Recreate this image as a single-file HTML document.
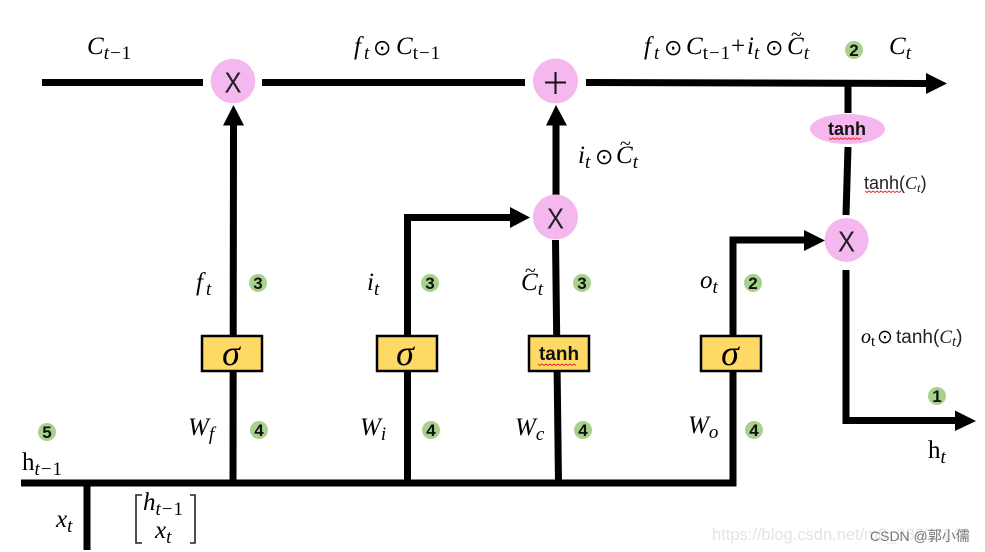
<!DOCTYPE html>
<html><head><meta charset="utf-8"><style>
html,body{margin:0;padding:0;background:#fff;width:985px;height:552px;overflow:hidden}
svg{display:block}
.m{font-family:"Liberation Serif",serif;font-style:italic;font-size:25px;fill:#000}
.s{font-size:19px;letter-spacing:1px}
.u{font-style:normal}
.o{font-family:"DejaVu Sans",sans-serif;font-style:normal;font-size:22px}
.x{font-family:"Liberation Sans",sans-serif;font-size:29px;text-anchor:middle;fill:#222}
.n{font-family:"Liberation Sans",sans-serif;font-size:17px;font-weight:bold;text-anchor:middle;fill:#111}
.t{font-family:"Liberation Sans",sans-serif;font-size:18px;fill:#222}
.sg{font-family:"Liberation Serif",serif;font-style:italic;font-size:36px;text-anchor:middle}
</style></head><body>
<svg width="985" height="552" viewBox="0 0 985 552" xmlns="http://www.w3.org/2000/svg">
<g stroke="#000" stroke-width="7" fill="none">
<path d="M42 82.5H203M262 82.5H525M586 82.5L926 83.5"/>
<path d="M233 483L233.500 125"/>
<path d="M407.500 483V217.500H510"/>
<path d="M556 195V125"/>
<path d="M555.500 240L558.500 483"/>
<path d="M21 483H733V240H805"/>
<path d="M848 86V113M848 147L846 215"/>
<path d="M846 270V420.500H955"/>
<path d="M87 486V550"/>
</g>
<g fill="#000">
<path d="M233.500 105L244 125.500H223Z"/>
<path d="M556 105L567 125.500H546Z"/>
<path d="M530 217.500L510 207V228Z"/>
<path d="M825 240.500L804 230V251Z"/>
<path d="M947 83.500L926 73V94Z"/>
<path d="M976 421L955 410.500V431Z"/>
</g>
<g fill="#F4B8EE">
<circle cx="233" cy="81" r="22.300"/>
<circle cx="555.500" cy="81" r="22.500"/>
<circle cx="555.500" cy="217" r="22.500"/>
<circle cx="846.500" cy="240" r="22"/>
<ellipse cx="847.500" cy="129" rx="37.500" ry="15"/>
</g>
<text class="x" x="233" y="92.500" textLength="17" lengthAdjust="spacingAndGlyphs" style="text-anchor:middle">X</text>
<text class="x" x="555.500" y="228.500" textLength="17" lengthAdjust="spacingAndGlyphs" style="text-anchor:middle">X</text>
<text class="x" x="846.500" y="251.500" textLength="17" lengthAdjust="spacingAndGlyphs" style="text-anchor:middle">X</text>
<path d="M555.500 72V94M545 82.500H566" stroke="#111" stroke-width="2"/>
<g fill="#FFD966" stroke="#000" stroke-width="2.500">
<rect x="202" y="336" width="60" height="35"/>
<rect x="377" y="336" width="60" height="35"/>
<rect x="529" y="336" width="60" height="35"/>
<rect x="701" y="336" width="60" height="35"/>
</g>
<text class="sg" x="231" y="365">σ</text>
<text class="sg" x="405" y="365">σ</text>
<text class="sg" x="730" y="365">σ</text>
<text x="559" y="360" font-family="Liberation Sans,sans-serif" font-size="19" font-weight="bold" text-anchor="middle" fill="#111">tanh</text>
<text x="847" y="135" font-family="Liberation Sans,sans-serif" font-size="18" font-weight="bold" text-anchor="middle" fill="#111">tanh</text>
<g fill="none" stroke="#e33" stroke-width="1">
<path d="M538 364l2 1.500 2-1.500 2 1.500 2-1.500 2 1.500 2-1.500 2 1.500 2-1.500 2 1.500 2-1.500 2 1.500 2-1.500 2 1.500 2-1.500 2 1.500 2-1.500 2 1.500 2-1.500 2 1.500"/>
<path d="M829 138l2 1.500 2-1.500 2 1.500 2-1.500 2 1.500 2-1.500 2 1.500 2-1.500 2 1.500 2-1.500 2 1.500 2-1.500 2 1.500 2-1.500 2 1.500 2-1.500"/>
<path d="M865 191l2 1.500 2-1.500 2 1.500 2-1.500 2 1.500 2-1.500 2 1.500 2-1.500 2 1.500 2-1.500 2 1.500 2-1.500 2 1.500 2-1.500 2 1.500 2-1.500 2 1.500 2-1.500"/>
</g>
<g fill="#A9D18E">
<circle cx="258" cy="283" r="9"/><circle cx="430" cy="283" r="9"/><circle cx="582" cy="283" r="9"/><circle cx="753" cy="283" r="9"/>
<circle cx="259" cy="430" r="9"/><circle cx="431" cy="430" r="9"/><circle cx="583" cy="430" r="9"/><circle cx="754" cy="430" r="9"/>
<circle cx="47" cy="432" r="9"/><circle cx="937" cy="396" r="9"/><circle cx="854" cy="50" r="9"/>
</g>
<text class="n" x="258" y="289">3</text><text class="n" x="430" y="289">3</text><text class="n" x="582" y="289">3</text><text class="n" x="753" y="289">2</text>
<text class="n" x="259" y="436">4</text><text class="n" x="431" y="436">4</text><text class="n" x="583" y="436">4</text><text class="n" x="754" y="436">4</text>
<text class="n" x="47" y="438">5</text><text class="n" x="937" y="402">1</text><text class="n" x="854" y="56">2</text>
<text class="m" x="87" y="54">C<tspan class="s" dy="5">t</tspan><tspan class="s u">−1</tspan></text>
<text class="m" x="354" y="54">f<tspan class="s" dy="5" dx="3">t</tspan></text>
<text class="o" x="373" y="55">⊙</text>
<text class="m" x="396" y="54">C<tspan class="s u" dy="5">t−1</tspan></text>
<text class="m" x="644" y="54">f<tspan class="s" dy="5" dx="3">t</tspan></text>
<text class="o" x="664" y="55">⊙</text>
<text class="m" x="686" y="54">C<tspan class="s u" dy="5">t−1</tspan></text>
<text class="m" x="731" y="54" style="font-style:normal">+</text>
<text class="m" x="747" y="54">i<tspan class="s" dy="5">t</tspan></text>
<text class="o" x="765" y="55">⊙</text>
<text class="m" x="787" y="54">C<tspan class="s" dy="5">t</tspan></text>
<text class="m" x="791" y="41" style="font-style:normal;font-size:20px">~</text>
<text class="m" x="889" y="54">C<tspan class="s" dy="5">t</tspan></text>
<text class="m" x="578" y="163">i<tspan class="s" dy="5">t</tspan></text>
<text class="o" x="595" y="164">⊙</text>
<text class="m" x="616" y="163">C<tspan class="s" dy="5">t</tspan></text>
<text class="m" x="620" y="150" style="font-style:normal;font-size:20px">~</text>
<text class="t" x="864" y="189">tanh(<tspan style="font-family:'Liberation Serif',serif;font-style:italic">C<tspan font-size="13" dy="3">t</tspan><tspan dy="-3" style="font-style:normal;font-family:'Liberation Sans',sans-serif">)</tspan></tspan></text>
<text class="m" x="861" y="343" style="font-size:20px">o<tspan font-size="15" dy="3" class="u">t</tspan></text>
<text class="o" x="877" y="343" style="font-size:19px">⊙</text>
<text class="t" x="896" y="343" style="font-size:19px">tanh(<tspan style="font-family:'Liberation Serif',serif;font-style:italic">C<tspan font-size="15" dy="3">t</tspan><tspan dy="-3" style="font-style:normal;font-family:'Liberation Sans',sans-serif">)</tspan></tspan></text>
<text class="m" x="196" y="290">f<tspan class="s" dy="5" dx="3">t</tspan></text>
<text class="m" x="367" y="290">i<tspan class="s" dy="5">t</tspan></text>
<text class="m" x="521" y="290">C<tspan class="s" dy="5">t</tspan></text>
<text class="m" x="525" y="277" style="font-style:normal;font-size:20px">~</text>
<text class="m" x="700" y="288">o<tspan class="s" dy="5">t</tspan></text>
<text class="m" x="188" y="435">W<tspan class="s" dy="5">f</tspan></text>
<text class="m" x="360" y="435">W<tspan class="s" dy="5">i</tspan></text>
<text class="m" x="515" y="435">W<tspan class="s" dy="5">c</tspan></text>
<text class="m" x="688" y="433">W<tspan class="s" dy="5">o</tspan></text>
<text class="m" x="22" y="470" style="font-style:normal">h<tspan class="s" dy="5" style="font-style:italic">t</tspan><tspan class="s u">−1</tspan></text>
<text class="m" x="928" y="458" style="font-style:normal">h<tspan class="s" dy="5" style="font-style:italic">t</tspan></text>
<text class="m" x="56" y="527">x<tspan class="s" dy="5">t</tspan></text>
<text class="m" x="143" y="510">h<tspan class="s" dy="5">t</tspan><tspan class="s u">−1</tspan></text>
<text class="m" x="155" y="538">x<tspan class="s" dy="5">t</tspan></text>
<path d="M142 495H136V543H142M190 495H195V543H190" fill="none" stroke="#222" stroke-width="1.600"/>
<text x="712" y="540" font-family="Liberation Sans,sans-serif" font-size="16.500" fill="#e4e4e4">https://blog.csdn.net/m0_38602140</text>
<text x="870" y="541" font-family="Liberation Sans,'Noto Sans CJK SC',sans-serif" font-size="14" fill="#777">CSDN @郭小儒</text>
</svg>
</body></html>
